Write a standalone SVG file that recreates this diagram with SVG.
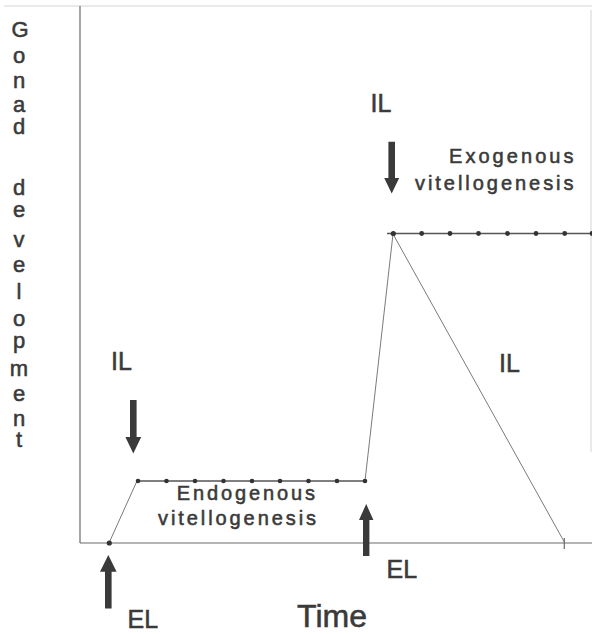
<svg xmlns="http://www.w3.org/2000/svg" width="592" height="634" viewBox="0 0 592 634">
<style>
  .lbl{font-family:"Liberation Sans",Arial,sans-serif;fill:#3a3a3a;stroke:#3a3a3a;stroke-width:0.55;}
  .ax{font-size:22px;text-anchor:middle;}
  .big{font-size:25px;}
  .mid{font-size:20px;}
  .axis{stroke:#6a6a6a;stroke-width:1.2;fill:none;}
  .faint{stroke:#d4d4d4;stroke-width:1;fill:none;}
  .plat{stroke:#555;stroke-width:1.4;fill:none;}
  .slope{stroke:#7a7a7a;stroke-width:1;fill:none;}
  .dot{fill:#333;}
  .arrow{fill:#3a3a3a;}
</style>
<rect width="592" height="634" fill="#ffffff"/>

<g id="frame">
  <line class="faint" x1="4" y1="6" x2="592" y2="6"/>
  <line class="faint" x1="591" y1="10" x2="591" y2="452"/>
  <line class="axis" x1="80" y1="6" x2="80" y2="543"/>
  <line class="axis" x1="80" y1="543" x2="592" y2="543"/>
  <line class="axis" x1="564.3" y1="538" x2="564.3" y2="549"/>
</g>

<g id="y-label" class="lbl ax">
  <text x="20" y="37">G</text>
  <text x="19" y="63">o</text>
  <text x="19" y="88">n</text>
  <text x="19" y="112">a</text>
  <text x="19" y="134">d</text>
  <text x="19" y="195">d</text>
  <text x="19" y="217">e</text>
  <text x="19" y="247">v</text>
  <text x="19" y="272">e</text>
  <text x="19" y="299">l</text>
  <text x="19" y="326">o</text>
  <text x="19" y="348">p</text>
  <text x="19" y="376">m</text>
  <text x="19" y="401">e</text>
  <text x="19" y="426">n</text>
  <text x="19" y="447">t</text>
</g>

<g id="x-label" class="lbl">
  <text x="297" y="627" font-size="31" textLength="70" lengthAdjust="spacingAndGlyphs">Time</text>
</g>

<g id="connectors">
  <polyline class="slope" points="109,543 137,481"/>
  <line class="plat" x1="137" y1="481" x2="365" y2="481"/>
  <polyline class="slope" points="365,481 393,234 564.3,542"/>
  <line class="plat" x1="387" y1="233.5" x2="592" y2="233.5"/>
</g>

<g id="endogenous-points">
  <circle class="dot" cx="109.3" cy="543" r="2.6"/>
  <circle class="dot" cx="138" cy="481" r="2.3"/>
  <circle class="dot" cx="166.5" cy="481" r="2.3"/>
  <circle class="dot" cx="195" cy="481" r="2.3"/>
  <circle class="dot" cx="223.5" cy="481" r="2.3"/>
  <circle class="dot" cx="252" cy="481" r="2.3"/>
  <circle class="dot" cx="280" cy="481" r="2.3"/>
  <circle class="dot" cx="308.5" cy="481" r="2.3"/>
  <circle class="dot" cx="337" cy="481" r="2.3"/>
  <circle class="dot" cx="365" cy="481" r="2.3"/>
</g>

<g id="exogenous-points">
  <circle class="dot" cx="393.3" cy="233.5" r="2.6"/>
  <circle class="dot" cx="421.7" cy="233.5" r="2.4"/>
  <circle class="dot" cx="450" cy="233.5" r="2.4"/>
  <circle class="dot" cx="478.5" cy="233.5" r="2.4"/>
  <circle class="dot" cx="507.5" cy="233.5" r="2.4"/>
  <circle class="dot" cx="536" cy="233.5" r="2.4"/>
  <circle class="dot" cx="564.7" cy="233.5" r="2.4"/>
  <circle class="dot" cx="592" cy="233.5" r="2.4"/>
</g>

<g id="il-arrow-left">
  <text class="lbl big" x="111" y="370">IL</text>
  <polygon class="arrow" points="130,400 136.6,400 136.6,437 141.2,437 133.3,453.5 125.4,437 130,437"/>
</g>

<g id="il-arrow-right">
  <text class="lbl big" x="370.5" y="112">IL</text>
  <polygon class="arrow" points="388.4,141.7 395,141.7 395,178 399.2,178 391.7,193.5 384.2,178 388.4,178"/>
</g>

<g id="il-label-decline">
  <text class="lbl big" x="499" y="372">IL</text>
</g>

<g id="el-arrow-left">
  <polygon class="arrow" points="105,608.5 111.6,608.5 111.6,571.7 116.6,571.7 108.3,555 100,571.7 105,571.7"/>
  <text class="lbl big" x="127.5" y="628" font-size="26">EL</text>
</g>

<g id="el-arrow-right">
  <polygon class="arrow" points="363,556 369.4,556 369.4,520 373.4,520 366.2,504 359,520 363,520"/>
  <text class="lbl big" x="386.5" y="578" font-size="26">EL</text>
</g>

<g id="endogenous-label" class="lbl mid">
  <text x="176.7" y="500" textLength="138.3" lengthAdjust="spacing">Endogenous</text>
  <text x="158" y="525" textLength="158" lengthAdjust="spacing">vitellogenesis</text>
</g>

<g id="exogenous-label" class="lbl mid">
  <text x="449" y="163" textLength="124.5" lengthAdjust="spacing">Exogenous</text>
  <text x="415" y="190" textLength="158.5" lengthAdjust="spacing">vitellogenesis</text>
</g>
</svg>
